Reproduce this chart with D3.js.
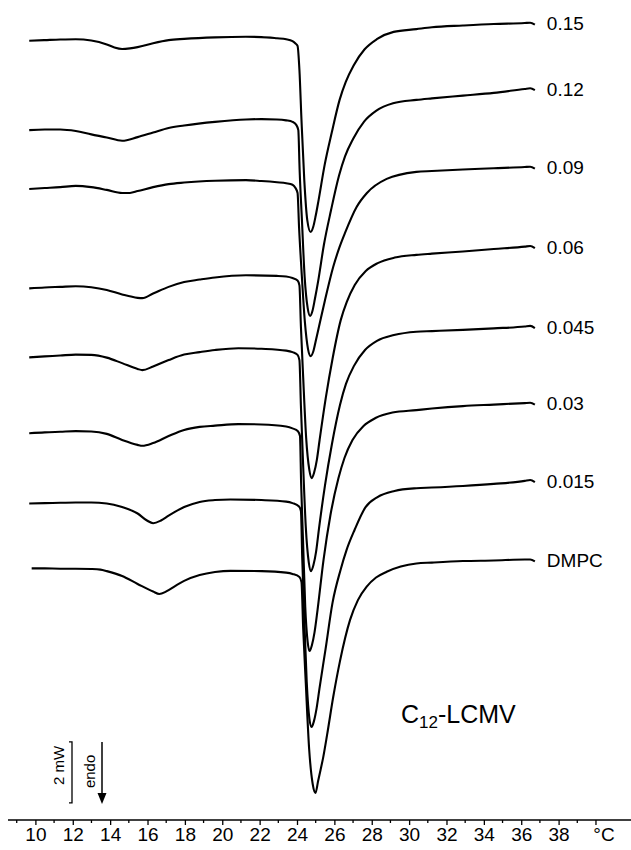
<!DOCTYPE html>
<html>
<head>
<meta charset="utf-8">
<script src="https://cdn.jsdelivr.net/npm/d3@7"></script>
<style>
  body { margin: 0; background: #fff; }
  svg  { display: block; font-family: "Liberation Sans", Arial, sans-serif; }
  .trace { fill: none; stroke: #000; stroke-width: 2.1; stroke-linejoin: round; }
</style>
</head>
<body>
<svg width="631" height="850"></svg>
<script>
// DSC traces: [temperature °C, heat flow mW] -- endo is down, traces stacked with offsets
const SERIES_NAMES = ["0.15", "0.12", "0.09", "0.06", "0.045", "0.03", "0.015", "DMPC"];

const trace015 = [
  [9.67,0.68],[10.50,0.66],[11.33,0.64],[12.16,0.63],[12.99,0.67],[13.82,0.80],[14.23,0.90],
  [14.64,0.95],[15.06,0.93],[15.47,0.89],[16.30,0.76],[17.13,0.66],[17.96,0.62],[19.61,0.57],
  [21.27,0.55],[22.10,0.56],[22.93,0.60],[23.42,0.63],[23.76,0.69],[23.92,0.77],
  [24.03,0.85],[24.13,1.64],[24.24,3.28],[24.39,5.25],[24.55,6.56],[24.73,6.95],
  [24.87,6.78],[25.00,6.42],[25.16,5.89],[25.48,4.75],[25.86,3.69],[26.28,2.62],[26.61,2.03],
  [27.03,1.49],[27.62,0.96],[28.27,0.63],[29.17,0.39],
  [30.39,0.30],[31.22,0.24],[32.88,0.18],[34.53,0.13],[36.19,0.10],[36.48,0.09],[36.73,0.15]
];

const trace012 = [
  [9.67,3.61],[10.50,3.59],[11.33,3.59],[12.16,3.64],[12.99,3.75],[13.82,3.85],[14.64,3.96],
  [15.47,3.84],[16.30,3.69],[17.13,3.54],[17.96,3.46],[19.61,3.34],[21.27,3.26],[22.10,3.25],
  [22.93,3.26],[23.42,3.29],[23.76,3.34],
  [23.96,3.44],[24.07,3.61],[24.14,4.91],[24.26,6.51],[24.41,8.43],[24.57,9.44],[24.70,9.70],
  [24.83,9.53],[24.96,9.14],[25.13,8.57],[25.44,7.37],[25.82,6.24],[26.25,5.10],[26.57,4.47],
  [27.00,3.90],[27.59,3.33],[28.23,2.98],[29.14,2.73],
  [30.39,2.62],[31.22,2.57],[32.88,2.48],[34.53,2.39],[36.19,2.26],[36.48,2.24],[36.73,2.30]
];

const trace009 = [
  [9.67,5.54],[10.50,5.51],[11.33,5.48],[12.16,5.44],[12.99,5.48],[13.82,5.57],[14.64,5.67],
  [15.06,5.67],[15.47,5.61],[16.30,5.48],[17.13,5.38],[17.96,5.33],[19.61,5.27],[21.27,5.25],
  [22.10,5.28],[22.93,5.32],[23.42,5.35],[23.76,5.40],
  [23.92,5.51],[24.03,5.67],[24.11,6.79],[24.24,8.20],[24.42,9.89],[24.59,10.79],[24.73,11.02],
  [24.87,10.87],[25.00,10.53],[25.16,10.10],[25.50,9.18],[25.94,8.09],[26.28,7.44],[26.57,6.98],
  [27.19,6.13],[27.73,5.68],[28.80,5.21],
  [30.39,4.98],[31.22,4.95],[32.88,4.90],[34.53,4.86],[36.19,4.82],[36.48,4.81],[36.73,4.87]
];

const trace006 = [
  [9.67,8.80],[10.50,8.77],[11.33,8.75],[12.16,8.73],[12.99,8.76],[13.82,8.85],[14.64,9.00],
  [15.47,9.11],[15.72,9.12],[16.30,8.97],[17.13,8.75],[17.96,8.59],[18.79,8.51],[19.61,8.44],
  [21.27,8.37],[22.93,8.39],[23.42,8.41],[23.76,8.46],
  [24.03,8.54],[24.13,8.70],[24.21,10.06],[24.33,11.71],[24.49,13.70],[24.66,14.75],[24.79,15.02],
  [24.92,14.83],[25.06,14.43],[25.21,13.77],[25.54,12.39],[25.91,11.08],[26.34,9.84],[26.66,9.25],
  [27.09,8.69],[27.68,8.23],[28.32,7.97],[29.23,7.79],
  [30.39,7.70],[31.22,7.66],[32.88,7.59],[34.53,7.51],[36.19,7.43],[36.48,7.41],[36.73,7.48]
];

const trace0045 = [
  [9.67,11.06],[10.50,11.03],[11.33,11.00],[12.16,10.97],[12.99,10.98],[13.82,11.07],[14.64,11.25],
  [15.47,11.44],[15.72,11.48],[16.30,11.36],[17.13,11.15],[17.96,10.97],[18.79,10.89],[19.61,10.82],
  [20.86,10.76],[22.10,10.78],[23.42,10.84],[23.76,10.89],
  [24.03,10.98],[24.13,11.15],[24.21,12.66],[24.32,14.46],[24.47,16.62],[24.63,17.78],[24.75,18.07],
  [24.88,17.87],[25.02,17.44],[25.18,16.66],[25.50,15.25],[25.87,13.90],[26.30,12.62],[26.62,11.93],
  [27.05,11.34],[27.64,10.82],[28.28,10.52],[29.19,10.33],
  [30.39,10.22],[31.22,10.20],[32.88,10.16],[34.53,10.11],[36.19,10.05],[36.48,10.03],[36.73,10.10]
];

const trace003 = [
  [9.67,13.55],[10.50,13.52],[11.33,13.50],[12.16,13.48],[12.99,13.49],[13.82,13.57],[14.64,13.77],
  [15.47,13.93],[15.72,13.96],[16.30,13.87],[17.13,13.64],[17.96,13.44],[18.79,13.34],[19.61,13.30],
  [20.86,13.25],[22.10,13.26],[23.42,13.33],[23.76,13.39],
  [24.05,13.48],[24.16,13.64],[24.22,15.18],[24.32,17.02],[24.44,19.22],[24.57,20.39],[24.67,20.69],
  [24.80,20.49],[24.94,20.07],[25.10,19.34],[25.42,17.70],[25.79,16.23],[26.22,15.02],[26.54,14.36],
  [26.97,13.77],[27.56,13.31],[28.20,13.05],[29.11,12.87],
  [30.39,12.79],[31.22,12.74],[32.88,12.66],[34.53,12.61],[36.19,12.56],[36.48,12.55],[36.73,12.61]
];

const trace0015 = [
  [9.67,15.85],[10.50,15.84],[11.33,15.83],[12.16,15.82],[12.99,15.82],[13.82,15.85],[14.64,15.97],
  [15.47,16.18],[15.97,16.41],[16.30,16.50],[16.72,16.41],[17.13,16.25],[17.96,15.97],[18.79,15.80],
  [19.61,15.74],[20.44,15.72],[22.10,15.74],[23.42,15.79],[23.76,15.84],
  [24.11,15.95],[24.21,16.10],[24.28,17.64],[24.38,19.49],[24.52,21.70],[24.66,22.89],[24.78,23.18],
  [24.91,22.98],[25.05,22.56],[25.20,21.93],[25.53,20.62],[25.90,19.11],[26.33,18.03],[26.65,17.38],
  [27.08,16.72],[27.67,15.97],[28.31,15.64],[29.22,15.44],
  [30.39,15.35],[31.22,15.33],[32.88,15.28],[34.53,15.21],[36.19,15.11],[36.48,15.08],[36.73,15.15]
];

const traceDMPC = [
  [9.80,17.98],[10.50,17.98],[11.33,17.99],[12.16,17.99],[12.99,18.00],[13.48,18.02],[13.82,18.07],
  [14.64,18.23],[15.47,18.49],[16.30,18.74],[16.63,18.82],[16.96,18.75],[17.13,18.69],[17.96,18.39],
  [18.79,18.20],[19.61,18.10],[20.44,18.06],[22.10,18.07],[23.42,18.12],[23.76,18.16],
  [24.13,18.26],[24.24,18.43],[24.33,19.93],[24.47,21.74],[24.65,23.90],[24.84,25.05],[24.99,25.34],
  [25.13,24.95],[25.26,24.59],[25.41,24.15],[25.61,23.44],[25.94,22.19],[26.30,21.02],[26.84,19.67],
  [27.26,19.02],[27.73,18.58],[28.23,18.28],[28.80,18.09],
  [30.39,17.82],[31.22,17.79],[32.88,17.74],[34.53,17.72],[36.19,17.69],[36.48,17.69],[36.73,17.75]
];

const TRACES      = [trace015, trace012, trace009, trace006, trace0045, trace003, trace0015, traceDMPC];
const MAJOR_TICKS = [10, 12, 14, 16, 18, 20, 22, 24, 26, 28, 30, 32, 34, 36, 38];
const MINOR_TICKS = [9, 11, 13, 15, 17, 19, 21, 23, 25, 27, 29, 31, 33, 35, 37, 39];
const UNIT_LABEL  = "°C";
const SCALE_MW    = 2;      // scale bar, mW
const SCALE_TOP   = 23.67;  // mW position of scale bar top


drawChart();


function drawChart() {
  let svg  = d3.select("svg"),
      x    = d3.scaleLinear()
               .domain([10, 38])
               .range([35.4, 558.6]),
      y    = d3.scaleLinear()
               .domain([0, 26])
               .range([20, 813]),
      line = d3.line()
               .x(d => x(d[0]))
               .y(d => y(d[1]))
               .curve(d3.curveMonotoneX);

  svg.selectAll(".trace")
    .data(TRACES)
    .enter().append("path")
      .attr("class", "trace")
      .attr("d", line);

  svg.selectAll(".series-label")
    .data(TRACES)
    .enter().append("text")
      .attr("class", "series-label")
      .attr("x", d => x(d[d.length - 1][0]) + 12)
      .attr("y", d => y(d[d.length - 1][1]) - 1)
      .attr("dominant-baseline", "central")
      .attr("font-size", 19)
      .text((d, i) => SERIES_NAMES[i]);

  drawAxis(svg, x);
  drawScaleBar(svg, y);

  let title = svg.append("text")
    .attr("x", 401)
    .attr("y", 723)
    .attr("font-size", 25);
  title.append("tspan").text("C");
  title.append("tspan").attr("font-size", 17).attr("dy", 5).text("12");
  title.append("tspan").attr("dy", -5).text("-LCMV");
}


function drawAxis(svg, x) {
  let gx = svg.append("g")
    .attr("class", "axis")
    .attr("transform", "translate(0,820)");

  gx.call(d3.axisBottom(x)
      .tickValues(MAJOR_TICKS)
      .tickSize(5)
      .tickSizeOuter(0)
      .tickPadding(3));

  gx.select(".domain").remove();
  gx.attr("font-size", 19)
    .attr("font-family", "Liberation Sans, Arial, sans-serif");
  gx.selectAll(".tick line").attr("stroke", "#000").attr("stroke-width", 1.3);
  gx.selectAll(".tick text").attr("fill", "#000");

  gx.append("line")
    .attr("x1", 8)
    .attr("x2", 631)
    .attr("stroke", "#000")
    .attr("stroke-width", 1.5);

  gx.selectAll(".minor")
    .data(MINOR_TICKS)
    .enter().append("line")
      .attr("class", "minor")
      .attr("x1", d => x(d))
      .attr("x2", d => x(d))
      .attr("y2", 3)
      .attr("stroke", "#000")
      .attr("stroke-width", 1.3);

  gx.append("line")
    .attr("x1", x(40))
    .attr("x2", x(40))
    .attr("y2", 5)
    .attr("stroke", "#000")
    .attr("stroke-width", 1.3);

  gx.append("text")
    .attr("x", x(40) + 8)
    .attr("y", 8)
    .attr("dy", "0.71em")
    .attr("text-anchor", "middle")
    .attr("fill", "#000")
    .text(UNIT_LABEL);
}


function drawScaleBar(svg, y) {
  let top    = y(SCALE_TOP),
      bottom = y(SCALE_TOP + SCALE_MW),
      mid    = (top + bottom) / 2,
      g      = svg.append("g").attr("class", "scalebar");

  g.append("path")
    .attr("d", `M69,${top}H72V${bottom}H69`)
    .attr("fill", "none")
    .attr("stroke", "#000")
    .attr("stroke-width", 1.3);

  g.append("text")
    .attr("transform", `translate(64,${mid - 7}) rotate(-90)`)
    .attr("text-anchor", "middle")
    .attr("font-size", 15)
    .text("2 mW");

  g.append("text")
    .attr("transform", `translate(95,${mid - 1}) rotate(-90)`)
    .attr("text-anchor", "middle")
    .attr("font-size", 15)
    .text("endo");

  g.append("line")
    .attr("x1", 102)
    .attr("x2", 102)
    .attr("y1", top)
    .attr("y2", bottom - 9)
    .attr("stroke", "#000")
    .attr("stroke-width", 1.5);

  g.append("path")
    .attr("d", `M97.5,${bottom - 10}L106.5,${bottom - 10}L102,${bottom + 1}Z`)
    .attr("fill", "#000");
}
</script>
</body>
</html>
